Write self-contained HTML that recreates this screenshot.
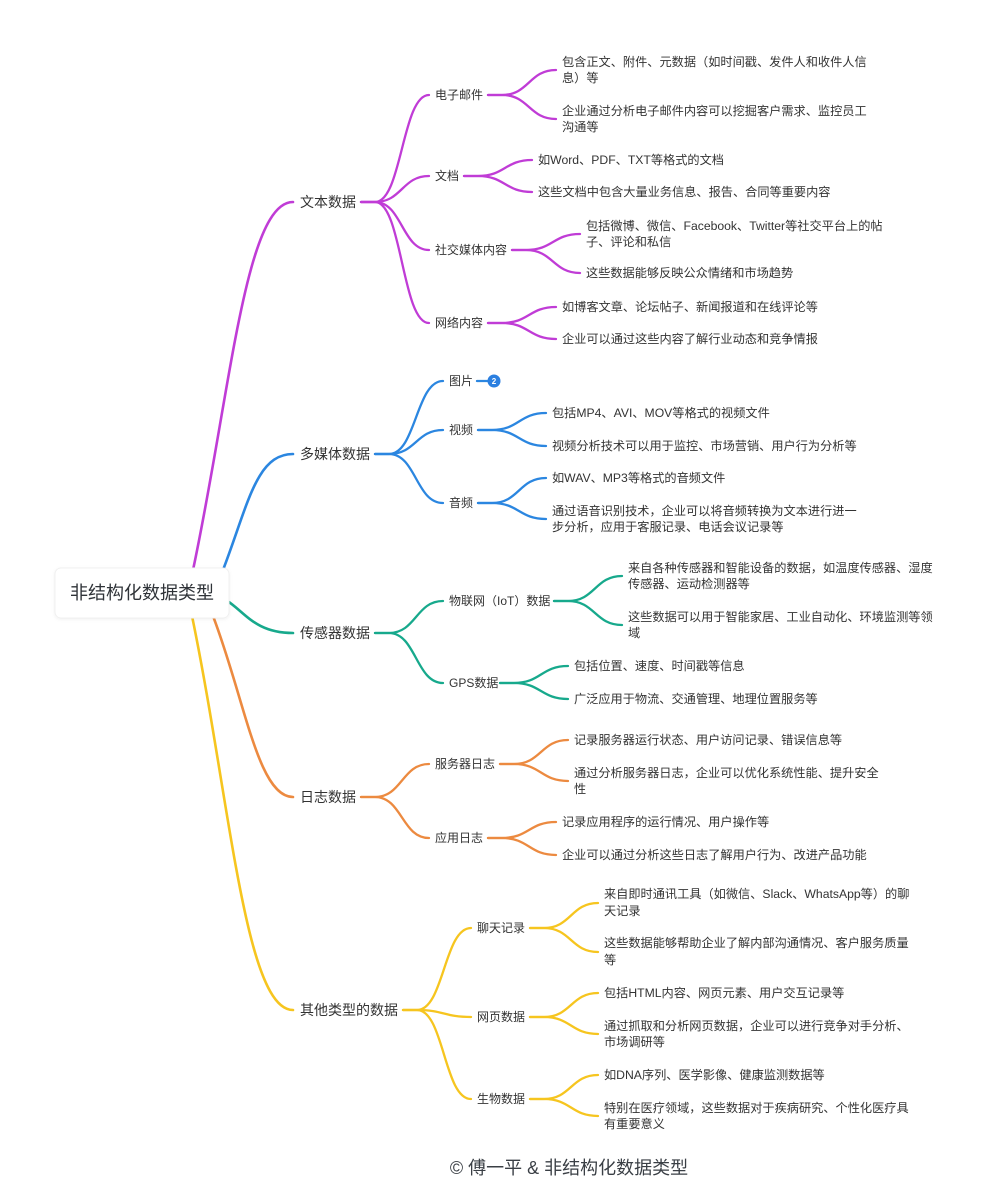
<!DOCTYPE html>
<html>
<head>
<meta charset="utf-8">
<style>
html,body{margin:0;padding:0;background:#fff;}
svg{display:block;}
text{font-family:"Liberation Sans","Noto Sans CJK SC",sans-serif;fill:#333;dominant-baseline:central;}
.l1{font-size:14px;}
.l2{font-size:12px;}
.lf{font-size:12.2px;}
path{fill:none;stroke-linecap:round;}
.m{stroke:#c03cd6;}
.b{stroke:#2b86e0;}
.t{stroke:#17a98c;}
.o{stroke:#ec8a40;}
.y{stroke:#f6c51f;}
.r{stroke-width:2.6;}
.c{stroke-width:2.3;}
</style>
</head>
<body>
<svg width="995" height="1200" viewBox="0 0 995 1200" xmlns="http://www.w3.org/2000/svg">
<rect width="995" height="1200" fill="#fff"/>

<!-- root curves -->
<path class="m r" d="M193,570 C230,396 245,202 293,202"/>
<path class="b r" d="M223,570 C248,505 256,454 293,454"/>
<path class="t r" d="M226,600 C245,612 255,633 293,633"/>
<path class="o r" d="M213,616 C245,700 258,797 293,797"/>
<path class="y r" d="M192,616 C230,800 245,1010 293,1010"/>

<!-- root box -->
<defs>
<filter id="sh" x="-10%" y="-20%" width="120%" height="140%">
<feDropShadow dx="0" dy="1" stdDeviation="1.5" flood-color="#000" flood-opacity="0.06"/>
</filter>
</defs>
<rect x="55" y="568" width="174" height="50" rx="6" fill="#fff" stroke="#f0f0f0" filter="url(#sh)"/>
<text x="142" y="593" text-anchor="middle" style="font-size:18px;fill:#2f3338">非结构化数据类型</text>

<!-- ===== 文本数据 (magenta) ===== -->
<text class="l1" x="300" y="202">文本数据</text>
<path class="m c" d="M361,202 L375,202 C402,202 402,95 429,95"/>
<path class="m c" d="M361,202 L375,202 C402,202 402,176 429,176"/>
<path class="m c" d="M361,202 L375,202 C402,202 402,250 429,250"/>
<path class="m c" d="M361,202 L375,202 C402,202 402,323 429,323"/>

<text class="l2" x="435" y="95">电子邮件</text>
<path class="m c" d="M488,95 L502,95 C529,95 529,70 556,70"/>
<path class="m c" d="M488,95 L502,95 C529,95 529,119 556,119"/>
<text class="lf" x="562" y="62">包含正文、附件、元数据（如时间戳、发件人和收件人信</text>
<text class="lf" x="562" y="78">息）等</text>
<text class="lf" x="562" y="111">企业通过分析电子邮件内容可以挖掘客户需求、监控员工</text>
<text class="lf" x="562" y="127">沟通等</text>

<text class="l2" x="435" y="176">文档</text>
<path class="m c" d="M464,176 L478,176 C505,176 505,160 532,160"/>
<path class="m c" d="M464,176 L478,176 C505,176 505,192 532,192"/>
<text class="lf" x="538" y="160">如Word、PDF、TXT等格式的文档</text>
<text class="lf" x="538" y="192">这些文档中包含大量业务信息、报告、合同等重要内容</text>

<text class="l2" x="435" y="250">社交媒体内容</text>
<path class="m c" d="M512,250 L526,250 C553,250 553,234 580,234"/>
<path class="m c" d="M512,250 L526,250 C553,250 553,273 580,273"/>
<text class="lf" x="586" y="226">包括微博、微信、Facebook、Twitter等社交平台上的帖</text>
<text class="lf" x="586" y="242">子、评论和私信</text>
<text class="lf" x="586" y="273">这些数据能够反映公众情绪和市场趋势</text>

<text class="l2" x="435" y="323">网络内容</text>
<path class="m c" d="M488,323 L502,323 C529,323 529,307 556,307"/>
<path class="m c" d="M488,323 L502,323 C529,323 529,339 556,339"/>
<text class="lf" x="562" y="307">如博客文章、论坛帖子、新闻报道和在线评论等</text>
<text class="lf" x="562" y="339">企业可以通过这些内容了解行业动态和竞争情报</text>

<!-- ===== 多媒体数据 (blue) ===== -->
<text class="l1" x="300" y="454">多媒体数据</text>
<path class="b c" d="M375,454 L389,454 C416,454 416,381 443,381"/>
<path class="b c" d="M375,454 L389,454 C416,454 416,430 443,430"/>
<path class="b c" d="M375,454 L389,454 C416,454 416,503 443,503"/>

<text class="l2" x="449" y="381">图片</text>
<path class="b c" d="M477,381 L489,381"/>
<circle cx="494" cy="381" r="6.5" fill="#2b7fe0"/>
<text x="494" y="381.5" text-anchor="middle" style="font-size:8px;font-weight:bold;fill:#fff">2</text>

<text class="l2" x="449" y="430">视频</text>
<path class="b c" d="M478,430 L492,430 C519,430 519,413 546,413"/>
<path class="b c" d="M478,430 L492,430 C519,430 519,446 546,446"/>
<text class="lf" x="552" y="413">包括MP4、AVI、MOV等格式的视频文件</text>
<text class="lf" x="552" y="446">视频分析技术可以用于监控、市场营销、用户行为分析等</text>

<text class="l2" x="449" y="503">音频</text>
<path class="b c" d="M478,503 L492,503 C519,503 519,478 546,478"/>
<path class="b c" d="M478,503 L492,503 C519,503 519,519 546,519"/>
<text class="lf" x="552" y="478">如WAV、MP3等格式的音频文件</text>
<text class="lf" x="552" y="511">通过语音识别技术，企业可以将音频转换为文本进行进一</text>
<text class="lf" x="552" y="527">步分析，应用于客服记录、电话会议记录等</text>

<!-- ===== 传感器数据 (teal) ===== -->
<text class="l1" x="300" y="633">传感器数据</text>
<path class="t c" d="M375,633 L389,633 C416,633 416,601 443,601"/>
<path class="t c" d="M375,633 L389,633 C416,633 416,683 443,683"/>

<text class="l2" x="449" y="601">物联网（IoT）数据</text>
<path class="t c" d="M554,601 L568,601 C595,601 595,576 622,576"/>
<path class="t c" d="M554,601 L568,601 C595,601 595,625 622,625"/>
<text class="lf" x="628" y="568">来自各种传感器和智能设备的数据，如温度传感器、湿度</text>
<text class="lf" x="628" y="584">传感器、运动检测器等</text>
<text class="lf" x="628" y="617">这些数据可以用于智能家居、工业自动化、环境监测等领</text>
<text class="lf" x="628" y="633">域</text>

<text class="l2" x="449" y="683">GPS数据</text>
<path class="t c" d="M500,683 L514,683 C541,683 541,666 568,666"/>
<path class="t c" d="M500,683 L514,683 C541,683 541,699 568,699"/>
<text class="lf" x="574" y="666">包括位置、速度、时间戳等信息</text>
<text class="lf" x="574" y="699">广泛应用于物流、交通管理、地理位置服务等</text>

<!-- ===== 日志数据 (orange) ===== -->
<text class="l1" x="300" y="797">日志数据</text>
<path class="o c" d="M361,797 L375,797 C402,797 402,764 429,764"/>
<path class="o c" d="M361,797 L375,797 C402,797 402,838 429,838"/>

<text class="l2" x="435" y="764">服务器日志</text>
<path class="o c" d="M500,764 L514,764 C541,764 541,740 568,740"/>
<path class="o c" d="M500,764 L514,764 C541,764 541,781 568,781"/>
<text class="lf" x="574" y="740">记录服务器运行状态、用户访问记录、错误信息等</text>
<text class="lf" x="574" y="773">通过分析服务器日志，企业可以优化系统性能、提升安全</text>
<text class="lf" x="574" y="789">性</text>

<text class="l2" x="435" y="838">应用日志</text>
<path class="o c" d="M488,838 L502,838 C529,838 529,822 556,822"/>
<path class="o c" d="M488,838 L502,838 C529,838 529,855 556,855"/>
<text class="lf" x="562" y="822">记录应用程序的运行情况、用户操作等</text>
<text class="lf" x="562" y="855">企业可以通过分析这些日志了解用户行为、改进产品功能</text>

<!-- ===== 其他类型的数据 (yellow) ===== -->
<text class="l1" x="300" y="1010">其他类型的数据</text>
<path class="y c" d="M403,1010 L417,1010 C444,1010 444,928 471,928"/>
<path class="y c" d="M403,1010 L417,1010 C444,1010 444,1017 471,1017"/>
<path class="y c" d="M403,1010 L417,1010 C444,1010 444,1099 471,1099"/>

<text class="l2" x="477" y="928">聊天记录</text>
<path class="y c" d="M530,928 L544,928 C571,928 571,903 598,903"/>
<path class="y c" d="M530,928 L544,928 C571,928 571,952 598,952"/>
<text class="lf" x="604" y="894">来自即时通讯工具（如微信、Slack、WhatsApp等）的聊</text>
<text class="lf" x="604" y="911">天记录</text>
<text class="lf" x="604" y="943">这些数据能够帮助企业了解内部沟通情况、客户服务质量</text>
<text class="lf" x="604" y="960">等</text>

<text class="l2" x="477" y="1017">网页数据</text>
<path class="y c" d="M530,1017 L544,1017 C571,1017 571,993 598,993"/>
<path class="y c" d="M530,1017 L544,1017 C571,1017 571,1034 598,1034"/>
<text class="lf" x="604" y="993">包括HTML内容、网页元素、用户交互记录等</text>
<text class="lf" x="604" y="1026">通过抓取和分析网页数据，企业可以进行竞争对手分析、</text>
<text class="lf" x="604" y="1042">市场调研等</text>

<text class="l2" x="477" y="1099">生物数据</text>
<path class="y c" d="M530,1099 L544,1099 C571,1099 571,1075 598,1075"/>
<path class="y c" d="M530,1099 L544,1099 C571,1099 571,1116 598,1116"/>
<text class="lf" x="604" y="1075">如DNA序列、医学影像、健康监测数据等</text>
<text class="lf" x="604" y="1108">特别在医疗领域，这些数据对于疾病研究、个性化医疗具</text>
<text class="lf" x="604" y="1124">有重要意义</text>

<!-- caption -->
<text x="569" y="1168" text-anchor="middle" style="font-size:18px;fill:#3a3f45">© 傅一平 &amp; 非结构化数据类型</text>
</svg>
</body>
</html>
